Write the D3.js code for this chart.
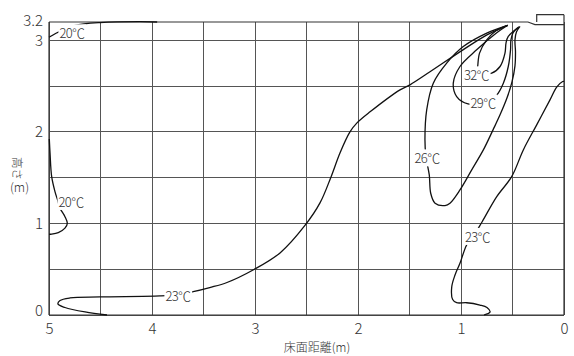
<!DOCTYPE html>
<html><head><meta charset="utf-8">
<script src="https://cdn.jsdelivr.net/npm/d3@7"></script>
<style>
html,body{margin:0;padding:0;background:#fff;}
svg text{font-family:"Noto Sans CJK JP","Noto Sans",sans-serif;fill:#333;}
</style></head>
<body><svg id="c" width="574" height="356"></svg>
<script>
// ---- data ----
const xTicks = [5, 4, 3, 2, 1, 0];
const yTicks = [0, 1, 2, 3, 3.2];
const gridX = [0, 0.5, 1, 1.5, 2, 2.5, 3, 3.5, 4, 4.5, 5];
const gridY = [0, 0.5, 1, 1.5, 2, 2.5, 3];
const xTitle = "床面距離(m)";
const yTitle = "高さ";
const yUnit = "(m)";

const contour20Top = [[5.0,3.033],[4.932,3.077],[4.85,3.12],[4.748,3.164],[4.505,3.194],[4.117,3.205],[3.95,3.2]];
const contour20Left = [[4.997,1.923],[4.99,1.77],[4.974,1.511],[4.942,1.348],[4.915,1.25],[4.893,1.166],[4.845,1.074],[4.822,1.002],[4.845,0.948],[4.91,0.899],[4.99,0.882],[5.0,0.88]];
const contour23Left = [[4.437,0],[4.65,0.033],[4.845,0.082],[4.913,0.12],[4.893,0.158],[4.796,0.186],[4.505,0.197],[3.922,0.208],[3.748,0.222],[3.60,0.255],[3.44,0.30],[3.272,0.355],[3.01,0.497],[2.757,0.678],[2.515,0.978],[2.369,1.224],[2.262,1.508],[2.175,1.77],[2.078,2.0],[2.01,2.098],[1.883,2.219],[1.592,2.459],[1.495,2.514],[1.301,2.656],[0.981,2.896],[0.748,3.06],[0.549,3.164]];
const contour23Right = [[0.777,0],[0.718,0.033],[0.748,0.082],[0.816,0.109],[0.945,0.134],[1.042,0.134],[1.081,0.169],[1.09,0.306],[1.058,0.437],[1.01,0.565],[0.945,0.765],[0.88,0.86],[0.796,1.016],[0.653,1.293],[0.508,1.511],[0.395,1.803],[0.265,2.077],[0.136,2.35],[0.071,2.489],[0.013,2.55],[0,2.552]];
const contour26 = [[0.547,3.164],[0.75,3.079],[0.978,2.932],[1.139,2.751],[1.269,2.532],[1.333,2.24],[1.35,1.913],[1.34,1.727],[1.308,1.53],[1.294,1.33],[1.252,1.221],[1.155,1.195],[1.107,1.221],[1.01,1.366],[0.896,1.585],[0.783,1.803],[0.689,2.022],[0.621,2.186],[0.553,2.372],[0.505,2.546],[0.476,2.721],[0.471,2.874],[0.476,3.005],[0.461,3.093],[0.427,3.153]];
const contour29 = [[0.547,3.164],[0.653,3.082],[0.848,2.896],[1.01,2.714],[1.075,2.532],[1.042,2.386],[0.932,2.306],[0.786,2.317],[0.653,2.404],[0.589,2.532],[0.541,2.714],[0.519,2.896],[0.515,3.005],[0.495,3.082],[0.437,3.148]];
const contour32 = [[0.547,3.164],[0.66,3.104],[0.75,3.005],[0.82,2.86],[0.838,2.714],[0.845,2.64],[0.702,2.641],[0.621,2.714],[0.573,2.86],[0.563,2.969],[0.541,3.042],[0.447,3.137]];
const contours = [contour20Top, contour20Left, contour23Left, contour23Right, contour26, contour29, contour32];

const labelText = ["20℃", "20℃", "23℃", "32℃", "29℃", "26℃", "23℃"];
const labelX = [4.777, 4.786, 3.748, 0.85, 0.786, 1.33, 0.84];
const labelY = [3.082, 1.240, 0.208, 2.623, 2.317, 1.716, 0.858];

// outlet unit outline (data units)
const frameTop = [[5, 3.2], [0.35, 3.2], [0.282, 3.172], [0, 3.172]];
const unitBox = [[0.265, 3.2], [0.265, 3.28], [0, 3.28]];

// ---- drawing ----
const svg = d3.select("#c");
const x = d3.scaleLinear().domain([5, 0]).range([49, 564]);
const y = d3.scaleLinear().domain([0, 3.2]).range([315, 22]);

// grid
const grid = svg.append("g").attr("shape-rendering", "crispEdges");
grid.selectAll("line.gx").data(gridX).join("line")
  .attr("x1", d => x(d)).attr("x2", d => x(d))
  .attr("y1", y(0)).attr("y2", y(3.2))
  .attr("stroke", "#555").attr("stroke-width", 1);
grid.selectAll("line.gy").data(gridY).join("line")
  .attr("x1", x(5)).attr("x2", x(0))
  .attr("y1", d => y(d)).attr("y2", d => y(d))
  .attr("stroke", "#555").attr("stroke-width", 1);

// frame
const frame = svg.append("g").attr("fill", "none").attr("stroke", "#333").attr("stroke-width", 1.2);
frame.append("line").attr("x1", x(5)).attr("x2", x(5)).attr("y1", y(0)).attr("y2", y(3.2));
frame.append("line").attr("x1", x(5)).attr("x2", x(0)).attr("y1", y(0)).attr("y2", y(0));
frame.append("line").attr("x1", x(0)).attr("x2", x(0)).attr("y1", y(0)).attr("y2", y(3.28));
const lineGen = d3.line().x(d => x(d[0])).y(d => y(d[1]));
frame.append("path").attr("d", lineGen(frameTop));
frame.append("path").attr("d", lineGen(unitBox));

// labels (measure first for mask)
const labelsG = svg.append("g");
const labs = labelsG.selectAll("text").data(labelText).join("text")
  .attr("x", (d, i) => x(labelX[i])).attr("y", (d, i) => y(labelY[i]))
  .attr("text-anchor", "middle").attr("dominant-baseline", "central")
  .attr("font-size", 13).attr("letter-spacing", -0.6).attr("font-weight", 300)
  .text(d => d);

const defs = svg.append("defs");
const mask = defs.append("mask").attr("id", "lm").attr("maskUnits", "userSpaceOnUse")
  .attr("x", 0).attr("y", 0).attr("width", 574).attr("height", 356);
mask.append("rect").attr("width", 574).attr("height", 356).attr("fill", "#fff");
labs.each(function() {
  const b = this.getBBox();
  mask.append("rect").attr("x", b.x - 1).attr("y", b.y + 1)
    .attr("width", b.width + 2).attr("height", b.height - 2).attr("fill", "#000");
});

const curveGen = d3.line().x(d => x(d[0])).y(d => y(d[1])).curve(d3.curveCatmullRom.alpha(0.5));
svg.append("g").attr("mask", "url(#lm)")
  .selectAll("path").data(contours).join("path")
  .attr("d", curveGen).attr("fill", "none").attr("stroke", "#111").attr("stroke-width", 1.3);

labelsG.raise();

// axes
const xAxis = svg.append("g").attr("transform", `translate(0,${y(0)})`)
  .call(d3.axisBottom(x).tickValues(xTicks).tickSize(0).tickPadding(8).tickFormat(d3.format("d")));
const yAxis = svg.append("g").attr("transform", `translate(${x(5)},0)`)
  .call(d3.axisLeft(y).tickValues(yTicks).tickSize(0).tickPadding(6).tickFormat(d => d === 3.2 ? "3.2" : d3.format("d")(d)));
[xAxis, yAxis].forEach(a => {
  a.select(".domain").remove();
  a.selectAll("text").attr("font-size", 15).attr("font-weight", 300)
    .attr("font-family", "'Noto Sans CJK JP','Noto Sans',sans-serif").attr("fill", "#333");
});
yAxis.selectAll(".tick").filter(d => d === 0).select("text").attr("dy", "0.05em");
yAxis.selectAll(".tick").filter(d => d === 3.2).select("text").attr("dy", "0.25em");

svg.append("text").attr("x", 317).attr("y", 346).attr("text-anchor", "middle")
  .attr("dominant-baseline", "central").attr("font-size", 12).attr("font-weight", 300).text(xTitle);
svg.append("text").attr("transform", "translate(17.5,157) rotate(90)")
  .attr("dominant-baseline", "central").attr("font-size", 11.5).attr("font-weight", 300).text(yTitle);
svg.append("text").attr("x", 19.5).attr("y", 186).attr("text-anchor", "middle")
  .attr("dominant-baseline", "central").attr("font-size", 12.5).attr("font-weight", 300).text(yUnit);
</script></body></html>
